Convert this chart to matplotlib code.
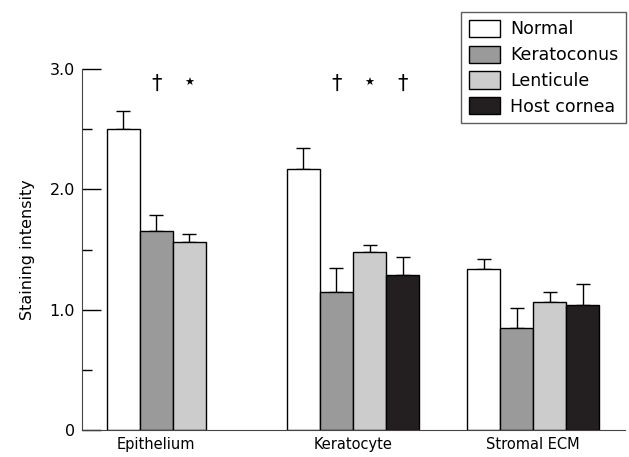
import numpy as np
import matplotlib
matplotlib.use('Agg')
import matplotlib.pyplot as plt

##
## Data
##
groups = ['Epithelium', 'Keratocyte', 'Stromal ECM']
series = ['Normal', 'Keratoconus', 'Lenticule', 'Host cornea']

normal      = [2.50, 2.17, 1.34]
keratoconus = [1.65, 1.15, 0.85]
lenticule   = [1.56, 1.48, 1.06]
host        = [np.nan, 1.29, 1.04]

normal_err      = [0.15, 0.17, 0.08]
keratoconus_err = [0.14, 0.20, 0.16]
lenticule_err   = [0.07, 0.06, 0.09]
host_err        = [np.nan, 0.15, 0.17]

# significance marks above bars (per group, per series)
marks = [['', '\u2020', '\u2605', ''],
         ['', '\u2020', '\u2605', '\u2020'],
         ['', '', '', '']]
mark_y = 2.88

colors = ['#ffffff', '#9a9a9a', '#cccccc', '#231f20']

values = [normal, keratoconus, lenticule, host]
errors = [normal_err, keratoconus_err, lenticule_err, host_err]

plt.rcParams['font.family'] = 'DejaVu Sans'

fig = plt.figure(figsize=(6.29, 4.57), dpi=100)
ax = fig.add_axes([0.130, 0.059, 0.864, 0.790])

gap = 180.0 / 33.0   # group pitch in bar widths
width = 1.0

for i in range(len(series)):
    x = np.arange(len(groups)) * gap + i * width + width / 2
    v = np.array(values[i])
    e = np.array(errors[i])
    ok = ~np.isnan(v)
    ax.bar(x[ok], v[ok], width, color=colors[i], edgecolor='black',
           linewidth=1.0, label=series[i], zorder=2)
    ax.errorbar(x[ok], v[ok], yerr=[np.zeros(ok.sum()), e[ok]], fmt='none',
                ecolor='black', elinewidth=1.0, capsize=5, capthick=1.0, zorder=1)
    for g in range(len(groups)):
        if marks[g][i]:
            fs = 8 if marks[g][i] == '\u2605' else 15
            ax.text(x[g], mark_y, marks[g][i], ha='center', va='center', fontsize=fs)

# tick positions at centre of the bars present in each group
nbars = [sum(0 if np.isnan(values[i][g]) else 1 for i in range(len(series)))
         for g in range(len(groups))]
centers = [g * gap + n * width / 2 for g, n in enumerate(nbars)]
ax.set_xticks(centers)
ax.set_xticklabels(groups, fontsize=10.5)
ax.tick_params(axis='x', length=0, pad=5)

ax.set_xlim(-25 / 33.0, 518 / 33.0)
ax.set_ylim(0, 3.0)
ax.set_yticks([0, 1, 2, 3])
ax.set_yticklabels(['0', '1.0', '2.0', '3.0'], fontsize=11.5)
ax.set_yticks([0.5, 1.5, 2.5], minor=True)
ax.tick_params(axis='y', which='major', direction='in', length=14, width=1, pad=5)
ax.tick_params(axis='y', which='minor', direction='in', length=7, width=1)
ax.set_ylabel('Staining intensity', fontsize=11.5, labelpad=10)

ax.spines['top'].set_visible(False)
ax.spines['right'].set_visible(False)
ax.spines['left'].set_color('#444444')
ax.spines['bottom'].set_color('#444444')

leg = fig.legend(loc='upper right', bbox_to_anchor=(626 / 629, 1 - 12 / 457),
                 fontsize=12.5, frameon=True, fancybox=False, borderaxespad=0,
                 handlelength=1.75, handleheight=1.15, handletextpad=0.6,
                 labelspacing=0.42, borderpad=0.45)
leg.get_frame().set_edgecolor('#333333')
leg.get_frame().set_linewidth(1.0)

plt.savefig('out.png', dpi=100)
